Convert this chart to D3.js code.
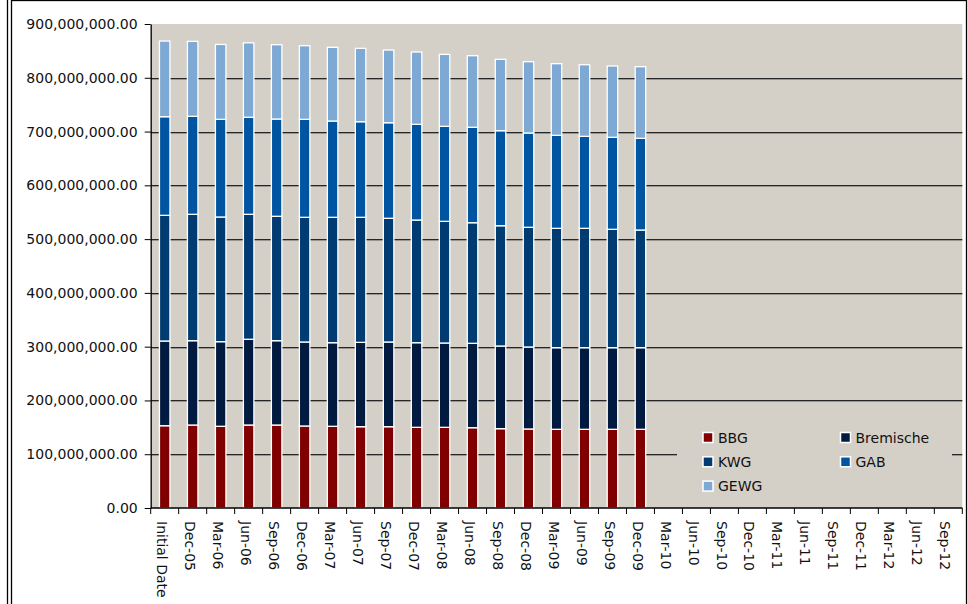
<!DOCTYPE html>
<html>
<head>
<meta charset="utf-8">
<script src="https://cdn.jsdelivr.net/npm/d3@7"></script>
<style>
  html, body { margin: 0; padding: 0; background: #fff; }
  svg { display: block; }
  text { font-family: "DejaVu Sans", sans-serif; fill: #111; }
</style>
</head>
<body>
<svg id="chart" width="967" height="604"></svg>
<script>
// ---- data (values in currency units) ----
const categories = ["Initial Date","Dec-05","Mar-06","Jun-06","Sep-06","Dec-06","Mar-07","Jun-07","Sep-07","Dec-07",
  "Mar-08","Jun-08","Sep-08","Dec-08","Mar-09","Jun-09","Sep-09","Dec-09",
  "Mar-10","Jun-10","Sep-10","Dec-10","Mar-11","Jun-11","Sep-11","Dec-11","Mar-12","Jun-12","Sep-12"];
const seriesNames = ["BBG","Bremische","KWG","GAB","GEWG"];
const bbg       = [153.0,154.3,151.9,154.3,154.3,152.5,151.9,151.2,151.2,150.0,150.0,149.3,147.5,146.9,146.3,146.3,146.3,146.3];
const bremische = [157.5,156.8,157.4,159.4,156.8,156.2,155.5,156.8,157.5,157.4,156.8,156.9,153.7,152.5,151.8,151.8,151.8,151.8];
const kwg       = [233.7,235.0,231.8,232.4,231.3,231.8,233.1,232.5,230.0,228.1,226.2,224.3,223.7,222.5,221.9,221.9,220.1,218.8];
const gab       = [183.4,182.2,181.6,180.4,180.9,182.2,179.1,177.8,177.7,177.9,176.7,177.4,176.7,175.4,173.0,171.1,171.1,170.5];
const gewg      = [140.7,139.4,139.3,138.5,138.2,136.9,137.0,136.4,135.2,134.5,133.8,133.1,132.7,132.6,133.2,133.2,132.6,133.2];
const unit = 1e6; // values above are in millions
const yTicks = [0,100e6,200e6,300e6,400e6,500e6,600e6,700e6,800e6,900e6];

// ---- styles ----
const colors = {BBG:"#800000", Bremische:"#001a40", KWG:"#003b72", GAB:"#0055a2", GEWG:"#7ea9d4"};
const plotBg = "#d4d0c8";

const svg = d3.select("#chart");
const X0 = 150.7, X1 = 962.3, Y0 = 24, Y1 = 508;

// frame lines
svg.append("line").attr("x1",7.5).attr("x2",7.5).attr("y1",0).attr("y2",604).attr("stroke","#000").attr("stroke-width",1.3);
svg.append("rect").attr("x",11.5).attr("y",0.5).attr("width",955).attr("height",610)
  .attr("fill","none").attr("stroke","#000").attr("stroke-width",1.3);

// scales
const x = d3.scaleBand().domain(categories).range([X0, X1]).padding(0);
const y = d3.scaleLinear().domain([0, 900e6]).range([Y1, Y0]);

// plot background
svg.append("rect").attr("x",X0).attr("y",Y0).attr("width",X1-X0).attr("height",Y1-Y0).attr("fill",plotBg);

// gridlines
const grid = svg.append("g");
yTicks.filter(t => t > 0 && t < 900e6).forEach(t => {
  const yy = Math.round(y(t)) + 0.5;
  grid.append("line").attr("x1",X0).attr("x2",X1).attr("y1",yy+1).attr("y2",yy+1).attr("stroke","#9a968f").attr("stroke-width",1);
  grid.append("line").attr("x1",X0).attr("x2",X1).attr("y1",yy).attr("y2",yy).attr("stroke","#262626").attr("stroke-width",1);
});

// stacked data
const rows = bbg.map((v,i) => ({
  cat: categories[i],
  BBG: v*unit, Bremische: bremische[i]*unit, KWG: kwg[i]*unit, GAB: gab[i]*unit, GEWG: gewg[i]*unit
}));
const stacked = d3.stack().keys(seriesNames)(rows);
const bw = x.bandwidth() * 0.375;

svg.append("g").selectAll("g").data(stacked).join("g")
  .attr("fill", d => colors[d.key])
  .selectAll("rect").data(d => d).join("rect")
  .attr("x", d => x(d.data.cat) + x.bandwidth()/2 - bw/2)
  .attr("width", bw)
  .attr("y", d => y(d[1]))
  .attr("height", d => y(d[0]) - y(d[1]))
  .attr("stroke", "#fff").attr("stroke-width", 1.3);

// y axis
const yAxis = svg.append("g").attr("transform", `translate(${X0},0)`)
  .call(d3.axisLeft(y).tickValues(yTicks).tickFormat(d3.format(",.2f")).tickSize(6).tickSizeOuter(0).tickPadding(7));
yAxis.select(".domain").attr("stroke","#000").attr("stroke-width",1.3);
yAxis.selectAll(".tick line").attr("stroke","#000");
yAxis.selectAll("text").style("font-family","'DejaVu Sans', sans-serif").style("font-size","14px").attr("fill","#111");

// x axis line and boundary ticks
svg.append("line").attr("x1",X0).attr("x2",X1).attr("y1",Y1).attr("y2",Y1).attr("stroke","#000").attr("stroke-width",1.3);
const bounds = categories.map(c => x(c)).concat([X1]);
svg.append("g").selectAll("line").data(bounds).join("line")
  .attr("x1", d => d).attr("x2", d => d).attr("y1", Y1).attr("y2", Y1 + 6)
  .attr("stroke","#000").attr("stroke-width",1);

// x labels (rotated)
svg.append("g").selectAll("text").data(categories).join("text")
  .attr("transform", d => `translate(${x(d) + x.bandwidth()/2 - 3},521) rotate(90)`)
  .attr("dy","0.35em")
  .style("font-size","14px")
  .text(d => d);

// legend
const lg = svg.append("g");
lg.append("rect").attr("x",677).attr("y",418).attr("width",275).attr("height",82).attr("fill",plotBg);
const legendPos = [[0,0],[1,0],[0,1],[1,1],[0,2]];
seriesNames.forEach((name,i) => {
  const [c,r] = legendPos[i];
  const lx = 703 + c*137.5, ly = 437.5 + r*24.3;
  lg.append("rect").attr("x",lx).attr("y",ly-5).attr("width",10).attr("height",10)
    .attr("fill",colors[name]).attr("stroke","#fff").attr("stroke-width",1.5);
  lg.append("text").attr("x",lx+15).attr("y",ly).attr("dy","0.36em").style("font-size","14px").text(name);
});
</script>
</body>
</html>
